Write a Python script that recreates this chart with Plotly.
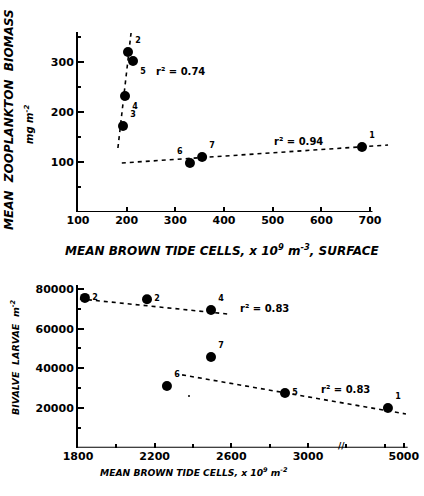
import plotly.graph_objects as go

# ---------- top panel data ----------
top_x = [683.5, 202.7, 192.5, 196.6, 213.0, 330.0, 355.0]
top_y = [130, 320, 172, 232, 302, 98, 110]
top_lbl = ["1", "2", "3", "4", "5", "6", "7"]
top_lblpos = ["top right", "top right", "top right", "bottom right", "bottom right", "top left", "top right"]
fit1_x = [182, 209]
fit1_y = [128, 358]
fit2_x = [190, 737]
fit2_y = [98, 134]
top_r2_text = ["r² = 0.74", "r² = 0.94"]
top_r2_x = [310, 552]
top_r2_y = [280, 140]
top_xticks = [100, 200, 300, 400, 500, 600, 700]
top_yticks = [100, 200, 300]

# ---------- bottom panel data ----------
bot_x = [3417, 1836, 2160, 2494, 2880, 2264, 2494]
bot_y = [20000, 75500, 74800, 69400, 27600, 31100, 45700]
bot_lbl = ["1", "2", "2", "4", "5", "6", "7"]
bot_lblpos = ["top right", "middle right", "middle right", "top right", "middle right", "top right", "top right"]
fit3_x = [1810, 2590]
fit3_y = [75000, 67300]
fit4_x = [2343, 3511]
fit4_y = [36700, 17000]
speck_x = [2379]
speck_y = [26000]
bot_r2_text = ["r² = 0.83", "r² = 0.83"]
bot_r2_x = [2775, 3195]
bot_r2_y = [70400, 29300]
bot_xticks = [1800, 2200, 2600, 3000, 3500]
bot_xticktext = ["1800", "2200", "2600", "3000", "5000"]
bot_yticks = [20000, 40000, 60000, 80000]
bot_yticktext = ["20000", "40000", "60000", "80000"]

FONT = "DejaVu Sans"
BI = dict(family=FONT, color="black", weight="bold", style="italic")

fig = go.Figure()

# top panel
for fx, fy in [(fit1_x, fit1_y), (fit2_x, fit2_y)]:
    fig.add_trace(go.Scatter(x=fx, y=fy, mode="lines", xaxis="x", yaxis="y",
                             line=dict(color="black", width=1.6, dash="4px,4px"),
                             showlegend=False, hoverinfo="skip"))
fig.add_trace(go.Scatter(x=top_x, y=top_y, mode="markers+text", xaxis="x", yaxis="y",
                         marker=dict(color="black", size=10),
                         text=top_lbl, textposition=top_lblpos,
                         textfont=dict(family=FONT, size=8, color="black", weight="bold"),
                         showlegend=False, cliponaxis=False))

# bottom panel
for fx, fy in [(fit3_x, fit3_y), (fit4_x, fit4_y)]:
    fig.add_trace(go.Scatter(x=fx, y=fy, mode="lines", xaxis="x2", yaxis="y2",
                             line=dict(color="black", width=1.6, dash="4px,4px"),
                             showlegend=False, hoverinfo="skip"))
fig.add_trace(go.Scatter(x=bot_x, y=bot_y, mode="markers+text", xaxis="x2", yaxis="y2",
                         marker=dict(color="black", size=10),
                         text=bot_lbl, textposition=bot_lblpos,
                         textfont=dict(family=FONT, size=8, color="black", weight="bold"),
                         showlegend=False, cliponaxis=False))
fig.add_trace(go.Scatter(x=speck_x, y=speck_y, mode="markers", xaxis="x2", yaxis="y2",
                         marker=dict(color="black", size=2), showlegend=False, hoverinfo="skip"))

tickfont = dict(family=FONT, size=11, color="black", weight="bold")
common = dict(showgrid=False, zeroline=False, ticks="inside", tickcolor="black",
              tickwidth=1.5, tickfont=tickfont, automargin=False)

fig.update_layout(
    width=424, height=496,
    margin=dict(l=0, r=0, t=0, b=0, autoexpand=False),
    paper_bgcolor="white", plot_bgcolor="white",
    xaxis=dict(domain=[78/424, 389.5/424], range=[100, 740], anchor="y",
               tickvals=top_xticks, ticklen=5, showline=False, **common),
    yaxis=dict(domain=[1-212/496, 1-32/496], range=[0, 360], anchor="x",
               tickvals=top_yticks, ticklen=6, showline=True, linecolor="black", linewidth=2,
               minor=dict(dtick=50, ticks="inside", ticklen=3, tickcolor="black", tick0=0),
               **common),
    xaxis2=dict(domain=[78/424, 411.5/424], range=[1800, 3540], anchor="y2",
                tickvals=bot_xticks, ticktext=bot_xticktext, ticklen=5,
                showline=False,
                minor=dict(dtick=200, tick0=1800, ticks="inside", ticklen=4, tickcolor="black"),
                **common),
    yaxis2=dict(domain=[1-447.7/496, 1-285/496], range=[0, 82000], anchor="x2",
                tickvals=bot_yticks, ticktext=bot_yticktext, ticklen=6,
                showline=True, linecolor="black", linewidth=2,
                minor=dict(dtick=10000, tick0=0, ticks="inside", ticklen=3, tickcolor="black"),
                **common),
)

# axis base lines (x) drawn as shapes so dashed fit lines may extend past them
fig.add_shape(type="line", xref="x", yref="y", x0=100, x1=705, y0=0, y1=0,
              line=dict(color="black", width=2))
fig.add_shape(type="line", xref="x2", yref="y2", x0=1800, x1=3520, y0=0, y1=0,
              line=dict(color="black", width=2))
# axis break mark
fig.add_annotation(x=3175, y=0, xref="x2", yref="y2", text="//", showarrow=False,
                   font=dict(family=FONT, size=9, color="black", weight="bold"), yshift=2)

for t, x, y in zip(top_r2_text, top_r2_x, top_r2_y):
    fig.add_annotation(x=x, y=y, xref="x", yref="y", text=t, showarrow=False,
                       font=dict(family=FONT, size=10, color="black", weight="bold"))
for t, x, y in zip(bot_r2_text, bot_r2_x, bot_r2_y):
    fig.add_annotation(x=x, y=y, xref="x2", yref="y2", text=t, showarrow=False,
                       font=dict(family=FONT, size=10, color="black", weight="bold"))

# titles
def title(x, y, text, size, angle=0):
    fig.add_annotation(x=x/424, y=1-y/496, xref="paper", yref="paper", showarrow=False,
                       xanchor="center", yanchor="middle", text=text, textangle=angle,
                       font=dict(size=size, **BI))

title(9, 120, "MEAN  ZOOPLANKTON  BIOMASS", 12, -90)
title(29, 125, "mg m<sup>-2</sup>", 10, -90)
title(222, 250, "MEAN BROWN TIDE CELLS, x 10<sup>9</sup> m<sup>-3</sup>, SURFACE", 12)
title(15, 357, "BIVALVE  LARVAE  m<sup>-2</sup>", 9.5, -90)
title(194, 472, "MEAN BROWN TIDE CELLS, x 10<sup>9</sup> m<sup>-2</sup>", 9.2)

fig.write_html("out.html")
